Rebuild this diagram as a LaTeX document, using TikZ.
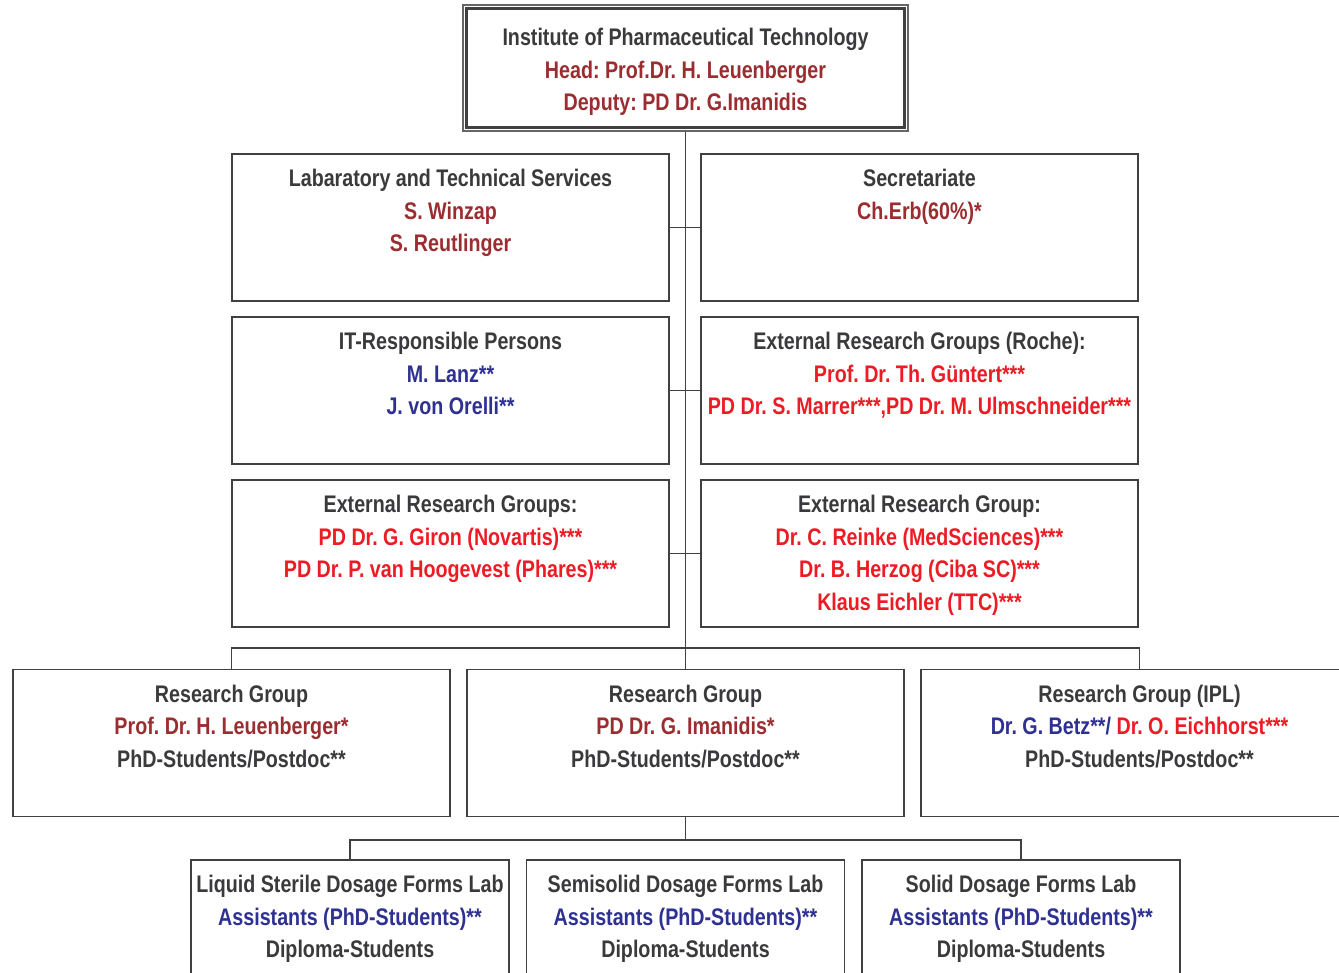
\documentclass[tikz,border=0pt]{standalone}
\usepackage{fontspec}
\setmainfont[FakeStretch=0.82]{Liberation Sans}
\usetikzlibrary{positioning}
\definecolor{txtgray}{HTML}{3A3A3C}
\definecolor{boxgray}{HTML}{404042}
\definecolor{dred}{HTML}{9B2D30}
\definecolor{bred}{HTML}{ED1C24}
\definecolor{dblue}{HTML}{2E3192}
\frenchspacing
\begin{document}
\frenchspacing
\begin{tikzpicture}[x=1pt,y=-1pt,
  box/.style={draw=boxgray,line width=1.6pt,inner sep=0pt,minimum width=437pt,minimum height=147pt},
  labbox/.style={draw=boxgray,line width=1.6pt,inner sep=0pt,minimum width=318pt,minimum height=147pt},
  txt/.style={align=center,inner sep=0pt,text=txtgray,font=\fontsize{24}{32.6}\selectfont\bfseries\frenchspacing},
  conn/.style={draw=boxgray,line width=1.8pt}]
\useasboundingbox (0,0) rectangle (1339,973);
\clip (0,0) rectangle (1339,973);
\fill[white] (0,0) rectangle (1339,973);

% top box
\node[draw=boxgray!80,line width=1.2pt,inner sep=0pt,minimum width=445pt,minimum height=126pt] (top) at (685.5,68) {};
\draw[boxgray,line width=3pt] ([shift={(4,4)}]top.north west) rectangle ([shift={(-4,-4)}]top.south east);
\node[txt,below=23.5pt of top.north] (toptxt) {Institute of Pharmaceutical Technology\\
  \textcolor{dred}{Head: Prof.Dr. H. Leuenberger}\\
  \textcolor{dred}{Deputy: PD Dr. G.Imanidis}};

% rows of service boxes
\node[box] (lab) at (450.5,227.5) {};
\node[box] (sec) at (919.5,227.5) {};
\node[box] (it)  at (450.5,390.5) {};
\node[box] (roche) at (919.5,390.5) {};
\node[box] (ext1) at (450.5,553.5) {};
\node[box] (ext2) at (919.5,553.5) {};

\node[txt,below=16pt of lab.north] (labtxt) {Labaratory and Technical Services\\
  \textcolor{dred}{S. Winzap}\\ \textcolor{dred}{S. Reutlinger}};
\node[txt,below=16pt of sec.north] (sectxt) {Secretariate\\ \textcolor{dred}{Ch.Erb(60\%)*}};
\node[txt,below=16pt of it.north] (ittxt) {IT-Responsible Persons\\
  \textcolor{dblue}{M. Lanz**}\\ \textcolor{dblue}{J. von Orelli**}};
\node[txt,below=16pt of roche.north] (rochetxt) {External Research Groups (Roche):\\
  \textcolor{bred}{Prof. Dr. Th. Güntert***}\\
  \textcolor{bred}{PD Dr. S. Marrer***,PD Dr. M. Ulmschneider***}};
\node[txt,below=16pt of ext1.north] (ext1txt) {External Research Groups:\\
  \textcolor{bred}{PD Dr. G. Giron (Novartis)***}\\
  \textcolor{bred}{PD Dr. P. van Hoogevest (Phares)***}};
\node[txt,below=16pt of ext2.north] (ext2txt) {External Research Group:\\
  \textcolor{bred}{Dr. C. Reinke (MedSciences)***}\\
  \textcolor{bred}{Dr. B. Herzog (Ciba SC)***}\\
  \textcolor{bred}{Klaus Eichler (TTC)***}};

% research groups
\node[box] (rg1) at (231.5,743) {};
\node[box] (rg2) at (685.5,743) {};
\node[box] (rg3) at (1139.5,743) {};
\node[txt,below=16pt of rg1.north] (rg1txt) {Research Group\\
  \textcolor{dred}{Prof. Dr. H. Leuenberger*}\\ PhD-Students/Postdoc**};
\node[txt,below=16pt of rg2.north] (rg2txt) {Research Group\\
  \textcolor{dred}{PD Dr. G. Imanidis*}\\ PhD-Students/Postdoc**};
\node[txt,below=16pt of rg3.north] (rg3txt) {Research Group (IPL)\\
  \textcolor{dblue}{Dr. G. Betz**/} \textcolor{bred}{Dr. O. Eichhorst***}\\ PhD-Students/Postdoc**};

% labs
\node[labbox] (l1) at (350,933.5) {};
\node[labbox] (l2) at (685.5,933.5) {};
\node[labbox] (l3) at (1021,933.5) {};
\node[txt,below=16pt of l1.north] (l1txt) {Liquid Sterile Dosage Forms Lab\\
  \textcolor{dblue}{Assistants (PhD-Students)**}\\ Diploma-Students};
\node[txt,below=16pt of l2.north] (l2txt) {Semisolid Dosage Forms Lab\\
  \textcolor{dblue}{Assistants (PhD-Students)**}\\ Diploma-Students};
\node[txt,below=16pt of l3.north] (l3txt) {Solid Dosage Forms Lab\\
  \textcolor{dblue}{Assistants (PhD-Students)**}\\ Diploma-Students};

% connectors
\draw[conn] (top.south) -- (rg2.north);
\draw[conn] (lab.east) -- (sec.west);
\draw[conn] (it.east) -- (roche.west);
\draw[conn] (ext1.east) -- (ext2.west);
\coordinate (bus1) at (685.5,648);
\draw[conn] (rg1.north) |- (bus1) -| (rg3.north);
\coordinate (bus2) at (685.5,840);
\draw[conn] (rg2.south) -- (bus2);
\draw[conn] (l1.north) |- (bus2) -| (l3.north);
\end{tikzpicture}
\end{document}
